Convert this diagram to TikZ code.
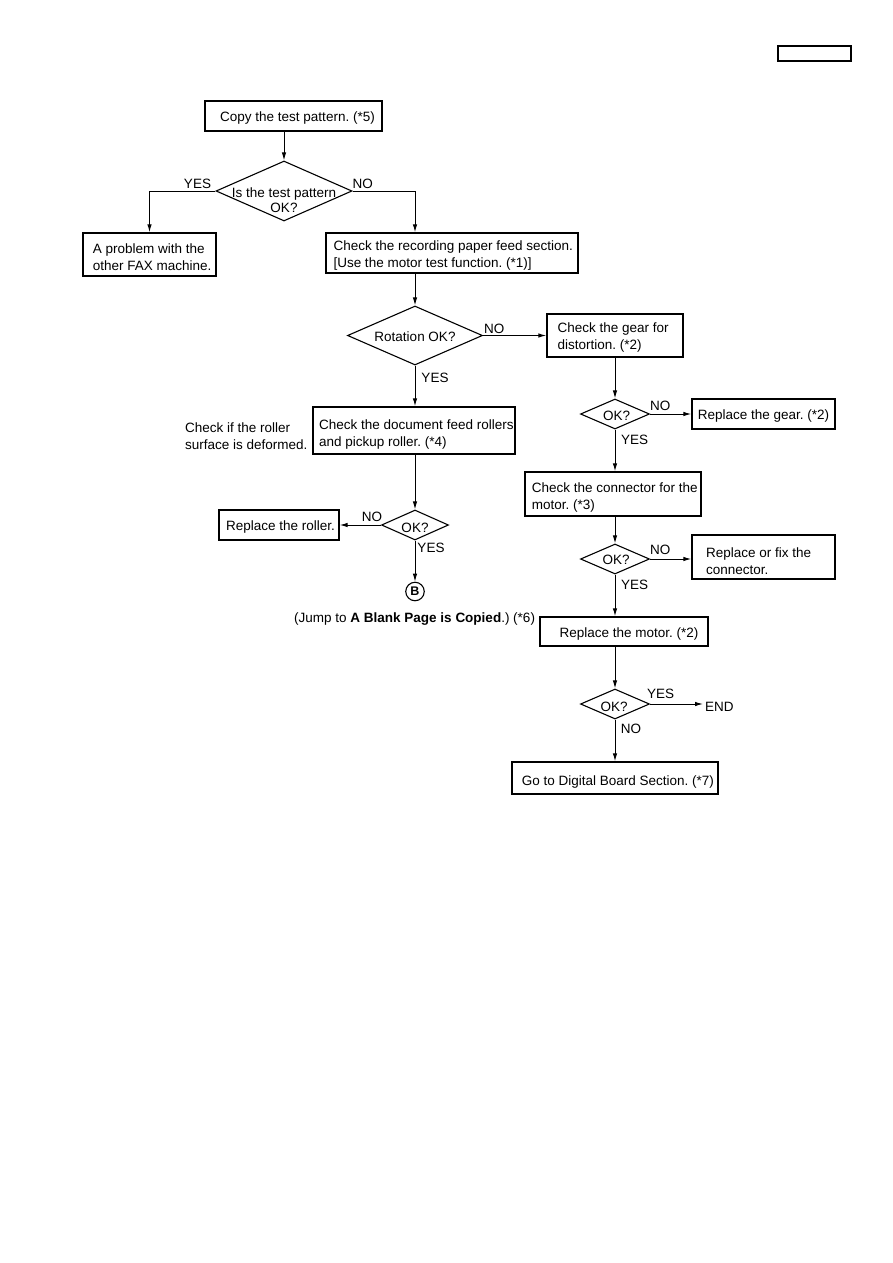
\documentclass[tikz,border=0pt]{standalone}
\usepackage{fontspec}
\setmainfont{Liberation Sans}
\frenchspacing
\usetikzlibrary{shapes.geometric,arrows.meta}
\tikzset{
  box/.style={draw, line width=1.4pt, inner sep=0pt, rectangle},
  dia/.style={draw, line width=1.1pt, diamond, inner sep=0pt},
  txt/.style={inner sep=0pt, anchor=west, align=left, yshift=-1pt, font=\fontsize{13.5}{17}\selectfont},
  ctxt/.style={inner sep=0pt, align=center, font=\fontsize{13.5}{15}\selectfont},
  arr/.style={line width=1pt, -{Latex[length=8pt,width=4.5pt]}},
  ln/.style={line width=1pt}
}
\begin{document}
\begin{tikzpicture}[x=1pt,y=-1pt]
\useasboundingbox (0,0) rectangle (893,1263);
% top-right box
\node[box, minimum width=73pt, minimum height=15pt] (tr) at (814.5,53.5) {};
% boxes
\node[box, minimum width=177pt, minimum height=30pt] (b1) at (293.5,116) {};
\node[box, minimum width=133pt, minimum height=43pt] (b2) at (149.5,254.5) {};
\node[box, minimum width=252pt, minimum height=40pt] (b3) at (452,253) {};
\node[box, minimum width=202pt, minimum height=47pt] (b4) at (414,430.5) {};
\node[box, minimum width=120pt, minimum height=30pt] (b5) at (279,525) {};
\node[box, minimum width=136pt, minimum height=43pt] (b6) at (615,335.5) {};
\node[box, minimum width=143pt, minimum height=30pt] (b7) at (763.5,414) {};
\node[box, minimum width=176pt, minimum height=44pt] (b8) at (613,494) {};
\node[box, minimum width=143pt, minimum height=44pt] (b9) at (763.5,557) {};
\node[box, minimum width=168pt, minimum height=29pt] (b10) at (624,631.5) {};
\node[box, minimum width=206pt, minimum height=32pt] (b11) at (615,778) {};
% box texts
\node[txt] (t1) at (220,117) {Copy the test pattern. (*5)};
\node[txt] (t2) at (92.7,256.5) {A problem with the\\other FAX machine.};
\node[txt] (t3) at (333.3,255) {Check the recording paper feed section.\\{}[Use the motor test function. (*1)]};
\node[txt] (t4) at (319,434) {Check the document feed rollers\\and pickup roller. (*4)};
\node[txt] (t5) at (226,526) {Replace the roller.};
\node[txt] (t6) at (557.3,336.5) {Check the gear for\\distortion. (*2)};
\node[txt] (t7) at (697.7,415.3) {Replace the gear. (*2)};
\node[txt] (t8) at (531.7,496.3) {Check the connector for the\\motor. (*3)};
\node[txt] (t9) at (706,560) {Replace or fix the\\connector.};
\node[txt] (t10) at (559.3,632.7) {Replace the motor. (*2)};
\node[txt] (t11) at (521.7,781) {Go to Digital Board Section. (*7)};
\node[txt] (side) at (185,435.5) {Check if the roller\\surface is deformed.};
% diamonds
\node[dia, minimum width=136pt, minimum height=60pt] (d1) at (284,191) {};
\node[dia, minimum width=135pt, minimum height=59pt] (d2) at (415,335.5) {};
\node[dia, minimum width=67pt, minimum height=30pt] (d3) at (415,525) {};
\node[dia, minimum width=69pt, minimum height=30pt] (d4) at (615,414) {};
\node[dia, minimum width=69pt, minimum height=30pt] (d5) at (615,559) {};
\node[dia, minimum width=69pt, minimum height=30pt] (d6) at (615,704) {};
\node[ctxt] (dt1) at (284,200) {Is the test pattern\\OK?};
\node[ctxt] (dt2) at (415,336.7) {Rotation OK?};
\node[ctxt] (dt3) at (415,528) {OK?};
\node[ctxt] (dt4) at (616.5,416) {OK?};
\node[ctxt] (dt5) at (616,560.3) {OK?};
\node[ctxt] (dt6) at (614,706.7) {OK?};
% circle B
\node[circle, draw, line width=1.1pt, minimum size=18.5pt, inner sep=0pt, font=\fontsize{12.5}{14}\selectfont\bfseries] (B) at (415,591.5) {B};
\node[txt] (jump) at (294,618) {(Jump to \textbf{A Blank Page is Copied}.) (*6)};
\node[txt] (end) at (705,706) {END};
% labels
\node[ctxt] (l1) at (197.5,184) {YES};
\node[ctxt] (l2) at (362.7,184) {NO};
\node[ctxt] (l3) at (494.3,329) {NO};
\node[ctxt] (l4) at (435,377.7) {YES};
\node[ctxt] (l5) at (372,517) {NO};
\node[ctxt] (l6) at (431,548.3) {YES};
\node[ctxt] (l7) at (660.3,406) {NO};
\node[ctxt] (l8) at (634.5,440) {YES};
\node[ctxt] (l9) at (660.3,550.3) {NO};
\node[ctxt] (l10) at (634.5,585) {YES};
\node[ctxt] (l11) at (660.5,694) {YES};
\node[ctxt] (l12) at (631,729.3) {NO};
% connectors
\draw[arr] (d1.north |- b1.south) -- (d1.north);
\draw[arr] (d1.west) -| (b2.north);
\draw[arr] (d1.east) -| (d2.north |- b3.north);
\draw[arr] (d2.north |- b3.south) -- (d2.north);
\draw[arr] (d2.east) -- (d2.east -| b6.west);
\draw[arr] (d2.south) -- (d2.south |- b4.north);
\draw[arr] (d3.north |- b4.south) -- (d3.north);
\draw[arr] (d3.west) -- (d3.west -| b5.east);
\draw[arr] (d3.south) -- (B.north);
\draw[arr] (d4.north |- b6.south) -- (d4.north);
\draw[arr] (d4.east) -- (d4.east -| b7.west);
\draw[arr] (d4.south) -- (d4.south |- b8.north);
\draw[arr] (d5.north |- b8.south) -- (d5.north);
\draw[arr] (d5.east) -- (d5.east -| b9.west);
\draw[arr] (d5.south) -- (d5.south |- b10.north);
\draw[arr] (d6.north |- b10.south) -- (d6.north);
\draw[arr, shorten >=2pt] (d6.east) -- (d6.east -| end.west);
\draw[arr] (d6.south) -- (d6.south |- b11.north);
\end{tikzpicture}
\end{document}
